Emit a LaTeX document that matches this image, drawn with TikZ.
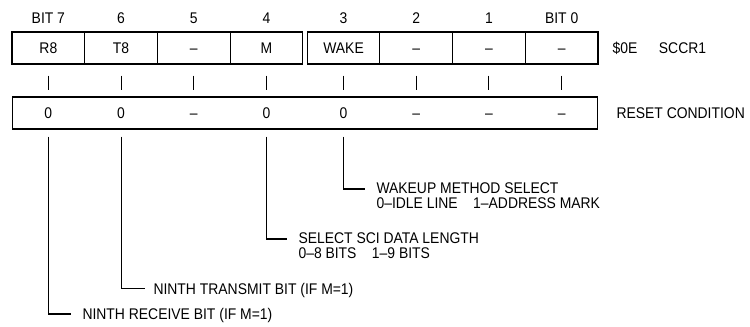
\documentclass[tikz,border=0pt]{standalone}
\usepackage{fontspec}
\setmainfont{Liberation Sans}[FakeStretch=0.9]
\usetikzlibrary{calc}

\begin{document}
\begin{tikzpicture}[x=0.02cm, y=-0.02cm, line width=0.6pt,
    every node/.style={font=\fontsize{8.8}{8.1}\selectfont, inner sep=0pt},
    bitcell/.style={draw, minimum width=1.454cm, minimum height=0.64cm, text height=6.3pt, text depth=0pt},
    val/.style={text height=6.3pt, text depth=0pt},
    lbl/.style={anchor=west, text height=6.3pt, text depth=0pt},
    twolbl/.style={anchor=north west, align=left}]
  \useasboundingbox (0,0) rectangle (750,327);
  % bit numbers
  \node (h7) at (48.35,18.5) {BIT 7};
  \node (h6) at (121.05,18.5) {6};
  \node (h5) at (193.75,18.5) {5};
  \node (h4) at (266.45,18.5) {4};
  \node (h3) at (343.55,18.5) {3};
  \node (h2) at (416.25,18.5) {2};
  \node (h1) at (488.95,18.5) {1};
  \node (h0) at (561.65,18.5) {BIT 0};
  % register
  \node[bitcell] (r8) at (48.35,48) {R8};
  \node[bitcell] (t8) at (121.05,48) {T8};
  \node[bitcell] (b5) at (193.75,48) {–};
  \node[bitcell] (m) at (266.45,48) {M};
  \node[bitcell] (wake) at (343.55,48) {WAKE};
  \node[bitcell] (b2) at (416.25,48) {–};
  \node[bitcell] (b1) at (488.95,48) {–};
  \node[bitcell] (b0) at (561.65,48) {–};
  \node[lbl] (sccr) at (612,48) {\$0E\hspace{1.4em}SCCR1};
  % ticks
  \draw ($(r8.south)+(0,11)$) -- ++(0,14);
  \draw ($(t8.south)+(0,11)$) -- ++(0,14);
  \draw ($(b5.south)+(0,11)$) -- ++(0,14);
  \draw ($(m.south)+(0,11)$) -- ++(0,14);
  \draw ($(wake.south)+(0,11)$) -- ++(0,14);
  \draw ($(b2.south)+(0,11)$) -- ++(0,14);
  \draw ($(b1.south)+(0,11)$) -- ++(0,14);
  \draw ($(b0.south)+(0,11)$) -- ++(0,14);
  % reset row
  \node[draw, minimum width=11.72cm, minimum height=0.64cm] (rstbox) at (305,113) {};
  \node[val] (v7) at (48.35,113) {0};
  \node[val] (v6) at (121.05,113) {0};
  \node[val] (v5) at (193.75,113) {–};
  \node[val] (v4) at (266.45,113) {0};
  \node[val] (v3) at (343.55,113) {0};
  \node[val] (v2) at (416.25,113) {–};
  \node[val] (v1) at (488.95,113) {–};
  \node[val] (v0) at (561.65,113) {–};
  \node[lbl] (rst) at (616,113) {RESET CONDITION};
  % descriptions
  \node[twolbl] (wakesel) at (376,182.5) {WAKEUP METHOD SELECT\\0–IDLE LINE\quad 1–ADDRESS MARK};
  \node[twolbl] (datalen) at (298,232.5) {SELECT SCI DATA LENGTH\\0–8 BITS\quad 1–9 BITS};
  \node[lbl] (xmt) at (153,288.5) {NINTH TRANSMIT BIT (IF M=1)};
  \node[lbl] (rcv) at (82,314) {NINTH RECEIVE BIT (IF M=1)};
  \draw ($(v3 |- rstbox.south)+(0,7)$) |- ($(wakesel.north west)+(-11,6.5)$);
  \draw ($(v4 |- rstbox.south)+(0,7)$) |- ($(datalen.north west)+(-11,6.5)$);
  \draw ($(v6 |- rstbox.south)+(0,7)$) |- ($(xmt.west)+(-8,0)$);
  \draw ($(v7 |- rstbox.south)+(0,7)$) |- ($(rcv.west)+(-11,0)$);
\end{tikzpicture}
\end{document}
